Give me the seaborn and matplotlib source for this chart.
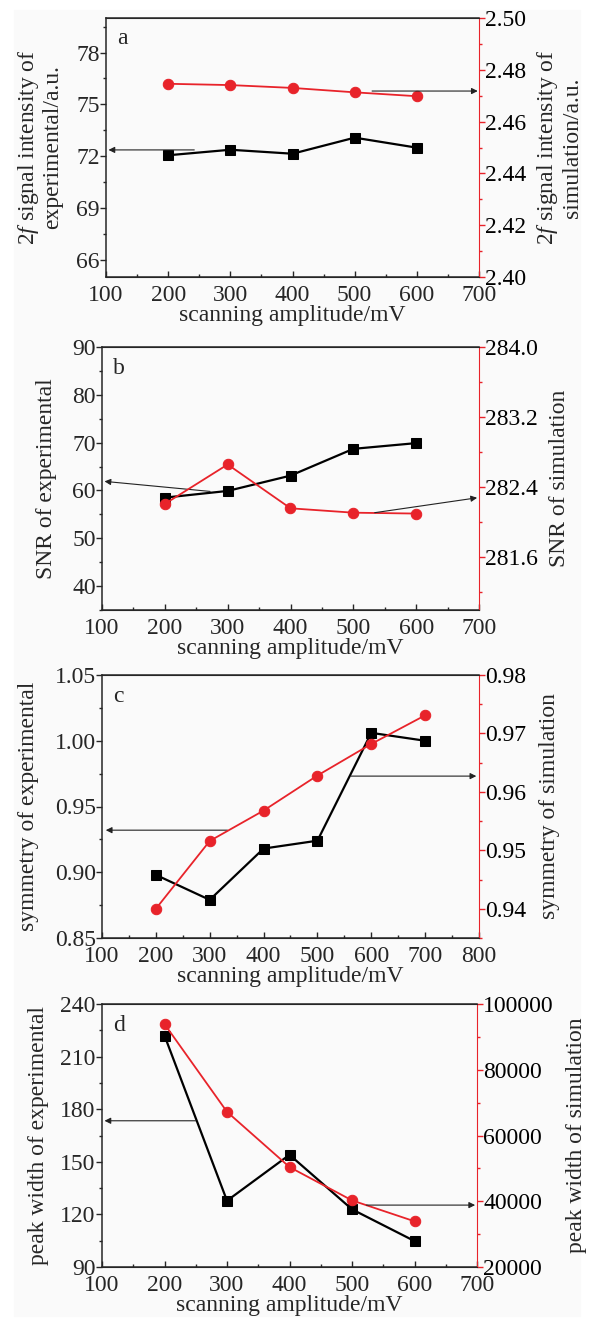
import matplotlib
matplotlib.use("Agg")
import matplotlib.pyplot as plt
import matplotlib.ticker as mticker
import seaborn as sns
from matplotlib.patches import Rectangle

# values
amp_a = [200, 300, 400, 500, 600]
exp_a = [72.05, 72.37, 72.14, 73.07, 72.49]
sim_a = [2.4746, 2.4741, 2.4730, 2.4713, 2.4698]

amp_b = [200, 300, 400, 500, 600]
exp_b = [58.5, 59.9, 63.1, 68.7, 69.9]
sim_b = [282.21, 282.66, 282.16, 282.11, 282.10]

amp_c = [200, 300, 400, 500, 600, 700]
exp_c = [0.898, 0.879, 0.918, 0.924, 1.006, 1.000]
sim_c = [0.9400, 0.9516, 0.9568, 0.9628, 0.9682, 0.9731]

amp_d = [200, 300, 400, 500, 600]
exp_d = [222.0, 127.8, 154.0, 122.9, 104.8]
sim_d = [93900, 67200, 50400, 40260, 33900]

sns.set_style("ticks")
plt.rcParams['font.family'] = ['Liberation Serif', 'DejaVu Serif']
plt.rcParams['mathtext.fontset'] = 'custom'
plt.rcParams['mathtext.rm'] = 'Liberation Serif'
plt.rcParams['mathtext.it'] = 'Liberation Serif:italic'

RED = '#e8232a'
BG = '#fafafa'
FS = 17

fig = plt.figure(figsize=(5.91, 13.19), dpi=100)
fig.patches.append(Rectangle((14 / 591, 3 / 1319), 566 / 591, 1306 / 1319,
                             transform=fig.transFigure, color=BG, zorder=-10))


def panel(rect, x, y1, y2, letter, xlim, ylim1, ylim2, step1, step2, fmt1, fmt2,
          lab1, lab2, lab1_x, lab2_x, arrow1, arrow2):
    ax = fig.add_axes(rect)
    ax.set_facecolor(BG)
    ax2 = ax.twinx()

    sns.lineplot(x=x, y=y1, ax=ax, color='black', marker='s', markersize=6.5,
                 markeredgecolor='black', linewidth=1.6)
    sns.lineplot(x=x, y=y2, ax=ax2, color=RED, marker='o', markersize=7.5,
                 markeredgecolor=RED, linewidth=1.3)

    ax.set_xlim(*xlim)
    ax.set_ylim(*ylim1)
    ax2.set_ylim(*ylim2)
    ax.xaxis.set_major_locator(mticker.MultipleLocator(100))
    ax.xaxis.set_minor_locator(mticker.MultipleLocator(50))
    ax.yaxis.set_major_locator(mticker.MultipleLocator(step1))
    ax.yaxis.set_minor_locator(mticker.MultipleLocator(step1 / 2))
    ax.yaxis.set_major_formatter(mticker.FormatStrFormatter(fmt1))
    ax2.yaxis.set_major_locator(mticker.MultipleLocator(step2))
    ax2.yaxis.set_minor_locator(mticker.MultipleLocator(step2 / 2))
    ax2.yaxis.set_major_formatter(mticker.FormatStrFormatter(fmt2))

    ax.tick_params(axis='x', direction='in', length=4, width=1, labelsize=FS, pad=5.5)
    ax.tick_params(axis='x', which='minor', direction='in', length=2.5, width=1)
    ax.tick_params(axis='y', direction='out', length=4, width=1, labelsize=FS, pad=0.5)
    ax.tick_params(axis='y', which='minor', direction='out', length=2.5, width=1)
    ax2.tick_params(axis='y', direction='out', length=4, width=1, colors=RED,
                    labelcolor='black', labelsize=FS, pad=0.5)
    ax2.tick_params(axis='y', which='minor', direction='out', length=2.5, width=1,
                    colors=RED)
    ax2.spines['right'].set_color(RED)
    ax2.spines['left'].set_visible(False)
    for s in ax.spines.values():
        s.set_linewidth(1.1)
    ax.spines['right'].set_visible(False)

    ax.set_xlabel('scanning amplitude/mV', fontsize=FS)
    ax.xaxis.set_label_coords(0.5, -0.108)
    ax.set_ylabel(lab1, fontsize=FS, linespacing=1.1)
    ax.yaxis.set_label_coords(lab1_x, 0.5)
    ax2.set_ylabel(lab2, fontsize=FS, linespacing=1.1, rotation=90)
    ax2.yaxis.set_label_coords(lab2_x, 0.5)

    ax.text(0.03, 0.96, letter, transform=ax.transAxes, fontsize=FS,
            va='top', ha='left')

    props = dict(arrowstyle='-|>', color='#222222', lw=0.8, mutation_scale=9,
                 shrinkA=0, shrinkB=0)
    ax.annotate('', xy=arrow1[1], xytext=arrow1[0], arrowprops=props)
    ax2.annotate('', xy=arrow2[1], xytext=arrow2[0], arrowprops=props)
    return ax


panel([106 / 591, 1 - 277 / 1319, 373 / 591, 259 / 1319], amp_a, exp_a, sim_a, 'a',
      (100, 700), (65, 80), (2.40, 2.50), 3, 0.02, '%d', '%.2f',
      '2$\\mathit{f}$ signal intensity of\nexperimental/a.u.',
      '2$\\mathit{f}$ signal intensity of\nsimulation/a.u.', -0.115, 1.150,
      ((242, 72.36), (104, 72.36)), ((528, 2.4718), (698, 2.4718)))

panel([102 / 591, 1 - 610 / 1319, 377 / 591, 263 / 1319], amp_b, exp_b, sim_b, 'b',
      (100, 700), (35, 90), (281.0, 284.0), 10, 0.8, '%d', '%.1f',
      'SNR of experimental', 'SNR of simulation', -0.119, 1.186,
      ((272, 59.8), (104, 61.9)), ((534, 282.11), (697, 282.28)))

panel([102 / 591, 1 - 938 / 1319, 377 / 591, 263 / 1319], amp_c, exp_c, sim_c, 'c',
      (100, 800), (0.85, 1.05), (0.935, 0.98), 0.05, 0.01, '%.2f', '%.2f',
      'symmetry of experimental', 'symmetry of simulation', -0.167, 1.159,
      ((333, 0.932), (107, 0.932)), ((562, 0.9627), (795, 0.9627)))

panel([102 / 591, 1 - 1267 / 1319, 375 / 591, 263 / 1319], amp_d, exp_d, sim_d, 'd',
      (100, 700), (90, 240), (20000, 100000), 30, 20000, '%d', '%d',
      'peak width of experimental', 'peak width of simulation', -0.140, 1.238,
      ((250, 173.4), (104, 173.4)), ((523, 38830), (697, 38830)))

fig.savefig('out.png', dpi=100, facecolor='white')
